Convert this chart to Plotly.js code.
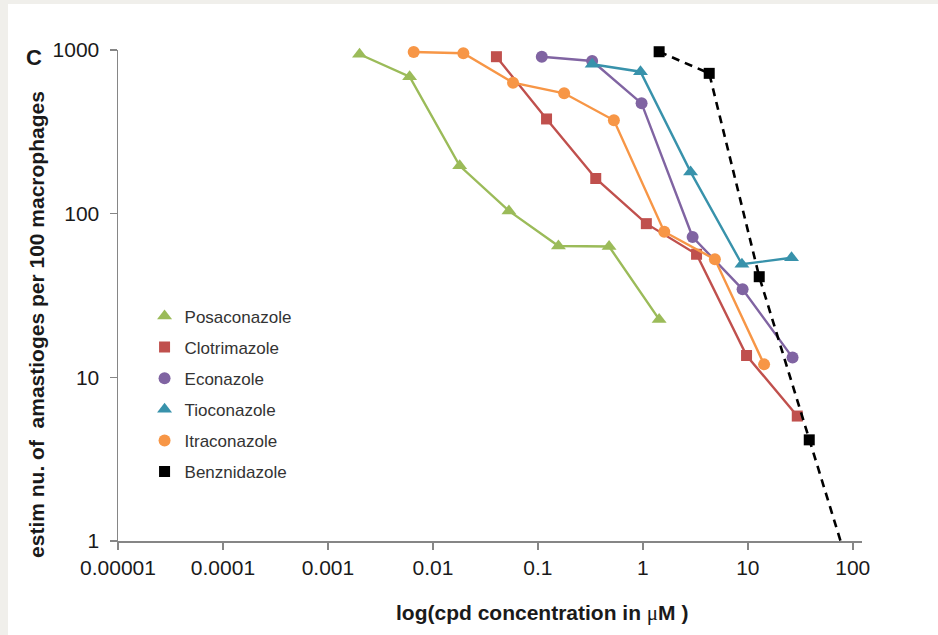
<!DOCTYPE html>
<html>
<head>
<meta charset="utf-8">
<script src="https://cdn.plot.ly/plotly-3.0.1.min.js"></script>
<style>
  html, body { margin: 0; padding: 0; background: #f0efeb; width: 938px; height: 635px; overflow: hidden; }
  #chart { position: absolute; left: 8px; top: 4px; width: 930px; height: 631px; background: #ffffff; }
</style>
</head>
<body>
<div id="chart"></div>
<script>
// ---- data ----
const seriesNames = ["Posaconazole", "Clotrimazole", "Econazole", "Tioconazole", "Itraconazole", "Benznidazole"];

const posaX = [0.002, 0.006, 0.018, 0.053, 0.157, 0.477, 1.43];
const posaY = [942, 687, 196, 104, 63.5, 63, 22.6];

const clotX = [0.0403, 0.121, 0.356, 1.08, 3.25, 9.73, 29.6];
const clotY = [910, 379, 164, 86.9, 56.5, 13.6, 5.8];

const econX = [0.109, 0.329, 0.973, 2.98, 8.92, 26.7];
const econY = [910, 857, 472, 72, 34.5, 13.2];

const tiocX = [0.329, 0.95, 2.85, 8.79, 26.1];
const tiocY = [818, 737, 180, 49.1, 53.8];

const itraX = [0.00656, 0.0195, 0.058, 0.178, 0.53, 1.6, 4.86, 14.3];
const itraY = [972, 955, 631, 544, 372, 77.6, 52.6, 12.0];

const benzX = [1.43, 4.29, 12.85, 38.5, 116];
const benzY = [976, 720, 41.2, 4.15, 0.42];

const xTickVals = [0.00001, 0.0001, 0.001, 0.01, 0.1, 1, 10, 100];
const xTickText = ["0.00001", "0.0001", "0.001", "0.01", "0.1", "1", "10", "100"];
const yTickVals = [1, 10, 100, 1000];
const yTickText = ["1", "10", "100", "1000"];

const xTitle = "log(cpd concentration in <span style=\"font-family:'Liberation Serif', serif; font-weight:normal\">μ</span>M )";
const yTitle = "estim nu. of  amastioges per 100 macrophages";
const panelLabel = "C";

// ---- styles ----
const styles = [
  { color: "#9bbb59", symbol: "triangle-up", size: 13, dash: "solid" },
  { color: "#c0504d", symbol: "square", size: 11, dash: "solid" },
  { color: "#8064a2", symbol: "circle", size: 12, dash: "solid" },
  { color: "#3892ab", symbol: "triangle-up", size: 13, dash: "solid" },
  { color: "#f79646", symbol: "circle", size: 12, dash: "solid" },
  { color: "#000000", symbol: "square", size: 11, dash: "8px,6px" }
];
const xs = [posaX, clotX, econX, tiocX, itraX, benzX];
const ys = [posaY, clotY, econY, tiocY, itraY, benzY];
const yMin = 1;

const traces = [];
for (let i = 0; i < seriesNames.length; i++) {
  const s = styles[i];
  traces.push({
    x: xs[i], y: ys[i], type: "scatter", mode: "lines",
    line: { color: s.color, width: (i === 5 ? 2.6 : 2.4), dash: s.dash },
    showlegend: false, hoverinfo: "skip", legendgroup: "g" + i
  });
  // markers only for points inside the y range (not clipped at the top edge)
  const mx = [], my = [];
  for (let k = 0; k < xs[i].length; k++) {
    if (ys[i][k] >= yMin) { mx.push(xs[i][k]); my.push(ys[i][k]); }
  }
  traces.push({
    x: mx, y: my, type: "scatter", mode: "markers", name: seriesNames[i],
    marker: { color: s.color, symbol: s.symbol, size: s.size, line: { width: 0 } },
    legendgroup: "g" + i, cliponaxis: false
  });
}

const font = "Liberation Sans, Arial, sans-serif";
const axisFont = { family: font, size: 21, color: "#1a1a1a" };

const layout = {
  width: 930, height: 631,
  margin: { l: 110, r: 76, t: 46, b: 94 },
  paper_bgcolor: "#ffffff", plot_bgcolor: "#ffffff",
  showlegend: true,
  legend: {
    x: 0.0357, y: 0.494, xanchor: "left", yanchor: "top",
    font: { family: font, size: 17, color: "#333333" },
    bgcolor: "rgba(0,0,0,0)", tracegroupgap: 6, itemsizing: "trace"
  },
  xaxis: {
    type: "log", range: [-5, 2.088],
    tickvals: xTickVals, ticktext: xTickText,
    showgrid: false, zeroline: false,
    showline: true, linecolor: "#868686", linewidth: 1.5,
    ticks: "outside", ticklen: 7, tickcolor: "#868686", tickwidth: 1.5,
    tickfont: axisFont
  },
  yaxis: {
    type: "log", range: [0, 3],
    tickvals: yTickVals, ticktext: yTickText,
    showgrid: false, zeroline: false,
    showline: true, linecolor: "#868686", linewidth: 1.5,
    ticks: "outside", ticklen: 7, tickcolor: "#868686", tickwidth: 1.5,
    tickfont: axisFont, ticklabelstandoff: 6
  },
  annotations: [
    {
      text: panelLabel, xref: "paper", yref: "paper", x: -0.113, y: 0.984,
      xanchor: "center", yanchor: "middle", showarrow: false,
      font: { family: font, size: 22, color: "#1a1a1a", weight: "bold" }
    },
    {
      text: xTitle, xref: "paper", yref: "paper", x: 0.570, y: -0.1466,
      xanchor: "center", yanchor: "middle", showarrow: false,
      font: { family: font, size: 21, color: "#1a1a1a", weight: "bold" }
    },
    {
      text: yTitle, xref: "paper", yref: "paper", x: -0.1089, y: 0.442,
      xanchor: "center", yanchor: "middle", showarrow: false, textangle: -90,
      font: { family: font, size: 21, color: "#1a1a1a", weight: "bold" }
    }
  ]
};

Plotly.newPlot("chart", traces, layout, { displayModeBar: false, staticPlot: true });
</script>
</body>
</html>
